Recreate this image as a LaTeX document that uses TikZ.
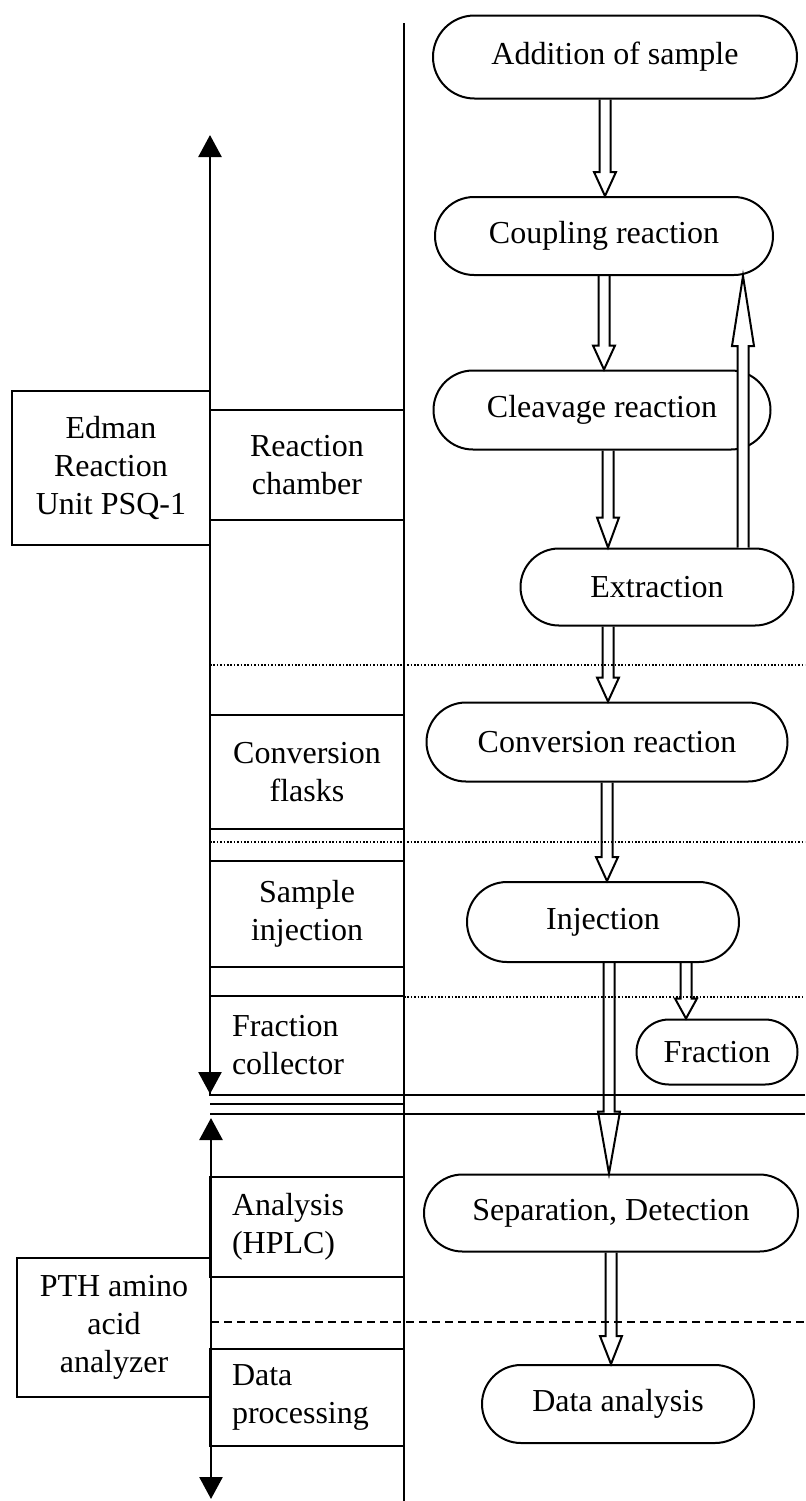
\documentclass[tikz,border=0pt]{standalone}
\usepackage{fontspec}
\setmainfont{Liberation Serif}
\usetikzlibrary{arrows.meta, shapes.misc, calc, backgrounds}

\tikzset{
	stage/.style={rounded rectangle, draw, line width=1pt, inner sep=0pt},
	unitbox/.style={rectangle, draw, line width=0.9pt, inner ysep=0pt, inner xsep=11pt, text width=75pt},
	headbox/.style={rectangle, draw, line width=0.9pt, inner sep=0pt, align=center},
	fat/.style={draw, fill=white, line width=1pt},
	span/.style={line width=1.3pt, {Triangle[width=11.5pt,length=11pt]}-{Triangle[width=11.5pt,length=11pt]}},
	rule/.style={line width=0.9pt},
	fine dots/.style={line width=0.8pt, dash pattern=on 0.8pt off 0.9pt},
}

% hollow vertical arrow: [head length]{from}{to}
\newcommand{\fatarrow}[3][12pt]{%
	\path[fat] let \p1=#2, \p2=#3, \n1={#1*sign(\y2-\y1)} in
		(\x1-2.75pt,\y1) -- (\x1-2.75pt,{\y2-(\n1)}) -- (\x1-5.5pt,{\y2-(\n1)}) -- (\x1,\y2)
		-- (\x1+5.5pt,{\y2-(\n1)}) -- (\x1+2.75pt,{\y2-(\n1)}) -- (\x1+2.75pt,\y1);}

\begin{document}
\begin{tikzpicture}[x=0.5pt, y=-0.5pt, font=\fontsize{16}{19}\selectfont]
	\useasboundingbox (0,0) rectangle (805,1501);

	\node[stage, minimum width=182pt, minimum height=41.5pt] (add) at (615,57) {Addition of sample};
	\node[stage, minimum width=169pt, minimum height=39pt] (coup) at (604,236) {Coupling reaction};
	\node[stage, minimum width=168.5pt, minimum height=39.5pt] (cleav) at (602,410) {Cleavage reaction};
	\node[stage, minimum width=136.5pt, minimum height=38.5pt] (extr) at (657,587) {Extraction};
	\node[stage, minimum width=180.5pt, minimum height=39.5pt] (conv) at (607,742) {Conversion reaction};
	\node[stage, minimum width=136pt, minimum height=40pt] (inj) at (603,922) {Injection};
	\node[stage, minimum width=80.5pt, minimum height=32.5pt] (frac) at (717,1052) {Fraction};
	\node[stage, minimum width=187pt, minimum height=38.5pt] (sep) at (611,1213) {Separation, Detection};
	\node[stage, minimum width=136pt, minimum height=39pt] (dana) at (618,1404) {Data analysis};

	\begin{scope}[on background layer]
		\fatarrow{([xshift=-5pt]add.south)}{(coup.north)}
		\fatarrow{(coup.south)}{(cleav.north)}
		\fatarrow[15pt]{([xshift=3pt]cleav.south)}{(extr.north)}
		\fatarrow{([xshift=-24.5pt]extr.south)}{(conv.north)}
		\fatarrow{(conv.south)}{(inj.north)}
		\fatarrow[31pt]{([xshift=3pt]inj.south)}{(sep.north)}
		\fatarrow[10pt]{([xshift=41.5pt]inj.south)}{(frac.north)}
		\fatarrow[14pt]{(sep.south)}{(dana.north)}
	\end{scope}
	% back to coupling, over the cleavage stage
	\fatarrow[35pt]{([xshift=43pt]extr.north)}{(coup.south)}

	\node[headbox, minimum width=99pt, minimum height=77pt] (edman) at (111,468) {Edman\\Reaction\\Unit PSQ-1};
	\node[headbox, minimum width=97pt, minimum height=69.5pt] (pth) at (114,1327.5) {PTH amino\\acid\\analyzer};

	\node[unitbox, align=center, minimum height=55pt] (chamber) at (307,465) {Reaction\\chamber};
	\node[unitbox, align=center, minimum height=57pt] (flasks) at (307,772) {Conversion\\flasks};
	\node[unitbox, align=center, minimum height=53pt] (injector) at (307,914) {Sample\\injection};
	\node[unitbox, align=left, minimum height=49.5pt] (collector) at (307,1045.5) {Fraction\\collector};
	\node[unitbox, align=left, minimum height=50pt] (hplc) at (307,1227) {Analysis\\(HPLC)};
	\node[unitbox, align=left, minimum height=48.5pt] (dataproc) at (307,1397.5) {Data\\processing};

	\coordinate (edtop) at (210,135);
	\coordinate (edbot) at (210,1094);
	\coordinate (antop) at (211,1118);
	\coordinate (anbot) at (211,1499);
	\draw[span] (edtop) -- (edbot);
	\draw[span] (antop) -- (anbot);

	\draw[line width=1.3pt] (404,23) -- (404,1501);

	\draw[rule] (210,1095) -- (805,1095);
	\draw[rule] (210,1104) -- (404,1104);
	\draw[rule] (210,1114) -- (805,1114);
	\draw[fine dots] (210,665) -- (805,665);
	\draw[fine dots] (210,842) -- (805,842);
	\draw[fine dots] (404,997) -- (805,997);
	\draw[rule, dash pattern=on 4pt off 2.5pt] (211,1322) -- (805,1322);
\end{tikzpicture}
\end{document}
